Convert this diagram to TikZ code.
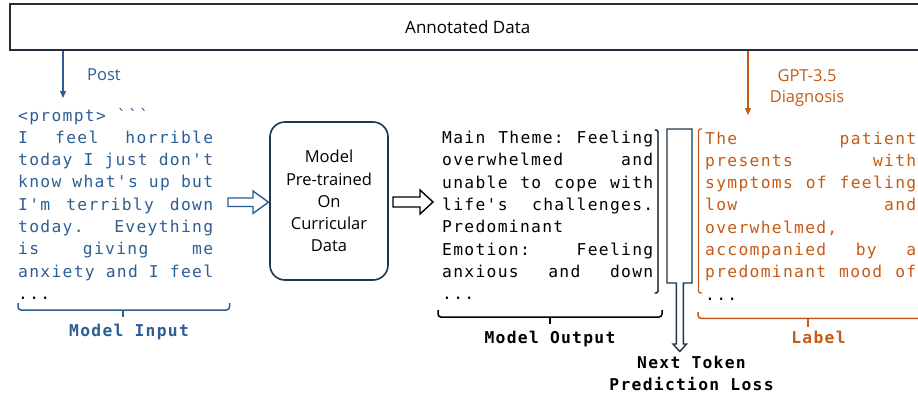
\documentclass[tikz,border=0pt]{standalone}
\usepackage{fontspec}
\setmainfont{Open Sans}
\newfontfamily\monof[LetterSpace=8,Ligatures=TeXOff]{DejaVu Sans Mono}
\usetikzlibrary{arrows.meta}
\definecolor{cblue}{RGB}{44,94,148}
\definecolor{corange}{RGB}{197,90,22}
\definecolor{cnavy}{RGB}{30,55,75}
\definecolor{cdark}{RGB}{35,45,60}
\newlength\wL
\newlength\wM
\newcommand\mt{\monof\fontsize{16.3}{22}\selectfont}
\newcommand\st{\fontsize{16.5}{22.1}\selectfont}
\newcommand\jL[1]{\makebox[\wL][l]{#1}}
\newcommand\jM[1]{\makebox[\wM][l]{#1}}
\newcommand\gap{\hfill}
\begin{document}
\settowidth\wL{\mt anxiety and I feel}%
\settowidth\wM{\mt Main Theme: Feeling}%
\begin{tikzpicture}[x=1pt,y=-1pt,
  mono/.style={inner sep=0pt,font=\mt,anchor=base west},
  monolab/.style={inner sep=0pt,font=\mt\bfseries,anchor=base},
  sanslab/.style={inner sep=0pt,font=\st,anchor=base},
  brk/.style={line width=1.3pt,rounded corners=1.5pt},
  brace/.style={line width=1.5pt,rounded corners=3pt},
  harrow/.style={line width=1.4pt,fill=white,line join=miter},
  tip/.style={-{Triangle[length=7pt,width=6pt]}}]
\useasboundingbox (0,0) rectangle (918,399);
\clip (0,0) rectangle (918,399);

% top box
\node[draw=cdark,line width=1.5pt,minimum width=916pt,minimum height=46pt,inner sep=0pt,
      anchor=north west,font=\fontsize{17}{20}\selectfont] (top) at (9,3) {Annotated Data};

% incoming arrows
\coordinate (postend) at (63,98);
\draw[cblue,line width=1.2pt,tip] (top.south -| postend) -- (postend);
\node[sanslab,text=cblue,anchor=base west] (post) at (87,80) {Post};
\coordinate (diagend) at (748,115);
\draw[corange,line width=1.2pt,tip] (top.south -| diagend) -- (diagend);
\node[sanslab,text=corange] (gpt) at (807,81) {GPT-3.5};
\node[sanslab,text=corange] (diag) at (807,102) {Diagnosis};

% model input
\node[mono,text=cblue] (in0) at (18,121) {<prompt> ```};
\node[mono,text=cblue] (in1) at (18,143.3) {\jL{I\gap feel\gap horrible}};
\node[mono,text=cblue] (in2) at (18,165.6) {\jL{today\gap I\gap just\gap don't}};
\node[mono,text=cblue] (in3) at (18,187.9) {\jL{know\gap what's\gap up\gap but}};
\node[mono,text=cblue] (in4) at (18,210.2) {\jL{I'm\gap terribly\gap down}};
\node[mono,text=cblue] (in5) at (18,232.5) {\jL{today.\gap Eveything}};
\node[mono,text=cblue] (in6) at (18,254.8) {\jL{is\gap giving\gap me}};
\node[mono,text=cblue] (in7) at (18,277.1) {\jL{anxiety\gap and\gap I\gap feel}};
\node[mono] (in8) at (18,299.4) {...};

% model output
\node[mono] (o0) at (442,143.5) {\jM{Main\gap Theme:\gap Feeling}};
\node[mono] (o1) at (442,165.8) {\jM{overwhelmed\gap and}};
\node[mono] (o2) at (442,188.1) {\jM{unable\gap to\gap cope\gap with}};
\node[mono] (o3) at (442,210.4) {\jM{life's\gap challenges.}};
\node[mono] (o4) at (442,232.7) {Predominant};
\node[mono] (o5) at (442,255.0) {\jM{Emotion:\gap Feeling}};
\node[mono] (o6) at (442,277.3) {\jM{anxious\gap and\gap down}};
\node[mono] (o7) at (442,299.6) {...};

% label
\node[mono,text=corange] (r0) at (705,144) {\jM{The\gap patient}};
\node[mono,text=corange] (r1) at (705,166.3) {\jM{presents\gap with}};
\node[mono,text=corange] (r2) at (705,188.6) {\jM{symptoms\gap of\gap feeling}};
\node[mono,text=corange] (r3) at (705,210.9) {\jM{low\gap and}};
\node[mono,text=corange] (r4) at (705,233.2) {overwhelmed,};
\node[mono,text=corange] (r5) at (705,255.5) {\jM{accompanied\gap by\gap a}};
\node[mono,text=corange] (r6) at (705,277.8) {\jM{predominant\gap mood\gap of}};
\node[mono] (r7) at (705,300.1) {...};

% brackets
\draw[brk] (654.5,130) -- (658,130) -- (658,293) -- (654.5,293);
\draw[brk,corange] (702,129) -- (698.5,129) -- (698.5,293) -- (702,293);

% model box
\node[draw=cnavy,line width=1.6pt,rounded corners=15pt,minimum width=118pt,minimum height=158pt,
      inner sep=0pt,align=center,font=\st] (model) at (329,201) {Model\\Pre-trained\\On\\Curricular\\Data};

% hollow arrows
\draw[harrow,draw=cblue] (228,198) -- (253,198) -- (253,191) -- (268.5,202.2) -- (253,213.4) -- (253,206.5) -- (228,206.5) -- cycle;
\draw[harrow,draw=black] (393,197) -- (420,197) -- (420,190) -- (433,202) -- (420,214) -- (420,207) -- (393,207) -- cycle;
\draw[harrow,draw=cnavy] (667,129) -- (692,129) -- (692,283) -- (683.3,283) -- (683.3,344) -- (686.5,344)
   -- (679.8,351.5) -- (673,344) -- (676.3,344) -- (676.3,283) -- (667,283) -- cycle;

% braces
\draw[brace,cblue] (18,303) -- (18,310) -- (229.5,310) -- (229.5,303);
\draw[cblue,line width=1.5pt] (123,310) -- (123,317);
\draw[brace] (438,310) -- (438,317) -- (662,317) -- (662,310);
\draw[line width=1.5pt] (550,317) -- (550,323.5);
\draw[brace,corange] (698,312) -- (698,318.3) -- (930,318.3);
\draw[corange,line width=1.5pt] (808,318.3) -- (808,326.5);

% labels
\node[monolab,text=cblue] (inlab) at (129,336) {Model Input};
\node[monolab] (outlab) at (550,343) {Model Output};
\node[monolab,text=corange] (lablab) at (818.5,343) {Label};
\node[monolab] (loss1) at (691.5,368) {Next Token};
\node[monolab] (loss2) at (691.5,390) {Prediction Loss};
\end{tikzpicture}
\end{document}
